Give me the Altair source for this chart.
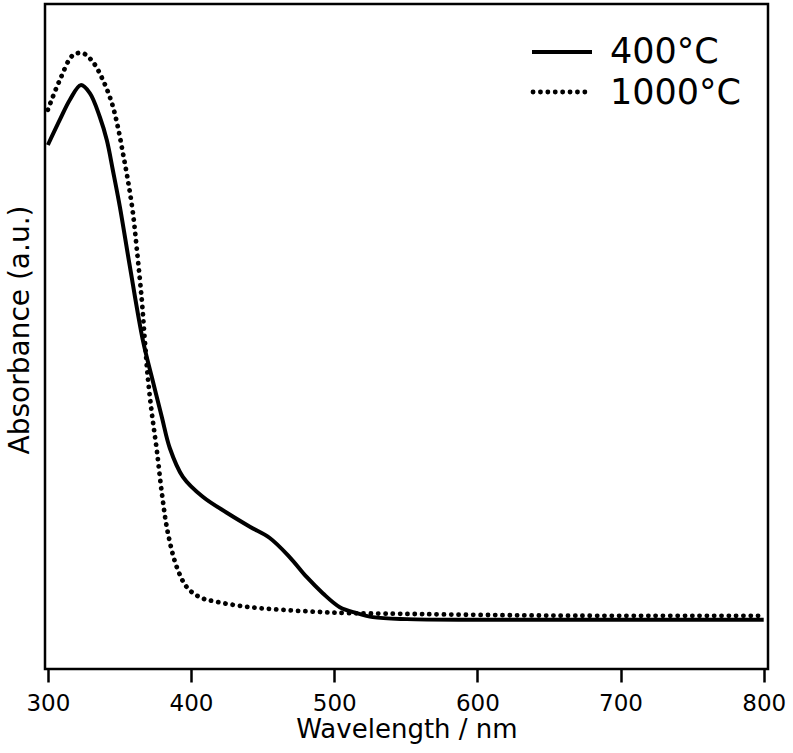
import altair as alt
import pandas as pd

# UV-vis absorbance spectra of samples annealed at two temperatures
series = ["400°C", "1000°C"]

wl_400 = [300, 308.4, 315.4, 323.0, 329.3, 336.3, 341.2, 345.4, 350.3, 357.3,
          366.3, 372.6, 379.6, 385.2, 394.3, 408.2, 425.0, 441.1, 455.0, 469.0,
          480.9, 492.0, 503.9, 515.8, 527.0, 550.7, 600, 700, 800]
abs_400 = [0.788, 0.826, 0.856, 0.878, 0.866, 0.830, 0.795, 0.750, 0.695, 0.605,
           0.495, 0.439, 0.379, 0.332, 0.289, 0.259, 0.235, 0.214, 0.197, 0.168,
           0.138, 0.114, 0.093, 0.084, 0.078, 0.075, 0.074, 0.074, 0.074]

wl_1000 = [300, 308.4, 317.5, 324.4, 331.4, 338.4, 344.7, 348.9, 352.4, 355.9,
           359.4, 362.2, 365.6, 367.7, 369.8, 372.6, 376.1, 379.6, 383.8, 390.1,
           397.1, 406.1, 418.0, 441.1, 464.1, 487.8, 510.9, 545.8, 615.6, 685.5, 800]
abs_1000 = [0.841, 0.886, 0.923, 0.926, 0.913, 0.886, 0.851, 0.815, 0.776, 0.735,
            0.686, 0.630, 0.555, 0.495, 0.439, 0.385, 0.329, 0.265, 0.205, 0.153,
            0.123, 0.108, 0.101, 0.093, 0.089, 0.086, 0.084, 0.083, 0.081, 0.080, 0.080]

x_ticks = [300, 400, 500, 600, 700, 800]

FONT = "DejaVu Sans"

df400 = pd.DataFrame({"wl": wl_400, "a": abs_400, "series": series[0]})
df1000 = pd.DataFrame({"wl": wl_1000, "a": abs_1000, "series": series[1]})

x_enc = alt.X(
    "wl:Q",
    scale=alt.Scale(domain=[298, 803], nice=False, zero=False),
    axis=alt.Axis(
        values=x_ticks, title="Wavelength / nm", grid=False, domain=False,
        tickSize=13, tickWidth=2.5, tickColor="black",
        labelFont=FONT, labelFontSize=23, labelColor="black", labelPadding=10,
        titleFont=FONT, titleFontSize=26, titleFontWeight="normal", titleColor="black",
        titleBaseline="alphabetic", titleY=68,
    ),
)
y_enc = alt.Y(
    "a:Q",
    scale=alt.Scale(domain=[0, 1], nice=False),
    axis=alt.Axis(
        title="Absorbance (a.u.)", labels=False, ticks=False, domain=False, grid=False,
        titleFont=FONT, titleFontSize=28, titleFontWeight="normal", titleColor="black",
        titleBaseline="alphabetic", titleX=-17, titleY=325.5,
    ),
)

solid = alt.Chart(df400).mark_line(
    color="black", strokeWidth=4, interpolate="catmull-rom"
).encode(x=x_enc, y=y_enc)

dotted = alt.Chart(df1000).mark_line(
    color="black", strokeWidth=4.8, strokeDash=[0.1, 7.2], strokeCap="round",
    interpolate="catmull-rom",
).encode(x=x_enc, y=y_enc)

# legend in the upper right corner
leg_solid = alt.Chart(df400.head(1)).mark_rule(color="black", strokeWidth=4).encode(
    x=alt.value(487), x2=alt.value(547), y=alt.value(48)
)
leg_dot = alt.Chart(df1000.head(1)).mark_rule(
    color="black", strokeWidth=4.8, strokeDash=[0.1, 7.3], strokeCap="round"
).encode(x=alt.value(488), x2=alt.value(547), y=alt.value(88))
leg_t1 = alt.Chart(df400.head(1)).mark_text(
    align="left", baseline="alphabetic", font=FONT, fontSize=35, color="black"
).encode(x=alt.value(565), y=alt.value(59), text="series:N")
leg_t2 = alt.Chart(df1000.head(1)).mark_text(
    align="left", baseline="alphabetic", font=FONT, fontSize=35, color="black"
).encode(x=alt.value(565), y=alt.value(100), text="series:N")

chart = (
    alt.layer(solid, dotted, leg_solid, leg_dot, leg_t1, leg_t2)
    .properties(
        width=723, height=665,
        autosize=alt.AutoSizeParams(type="none"),
        padding={"left": 45, "top": 4, "right": 25, "bottom": 84},
        background="white",
    )
    .configure_view(stroke="black", strokeWidth=2.5)
)

chart.save("out.html", embed_options={"renderer": "svg", "actions": False})
